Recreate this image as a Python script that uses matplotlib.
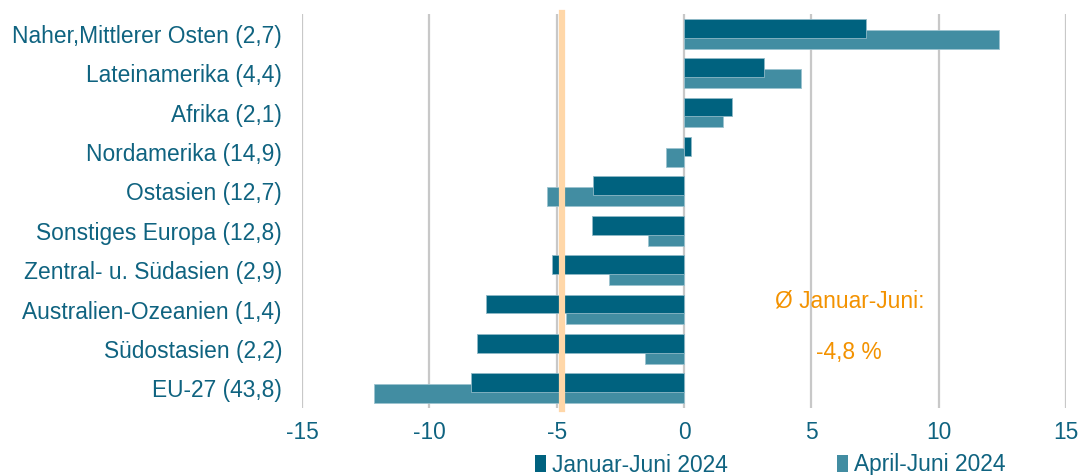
import matplotlib
matplotlib.use("Agg")
import matplotlib.pyplot as plt
from matplotlib.patches import Patch
import numpy as np

plt.rcParams['font.family'] = ['Liberation Sans', 'DejaVu Sans']

categories = ["Naher,Mittlerer Osten (2,7)", "Lateinamerika (4,4)", "Afrika (2,1)",
              "Nordamerika (14,9)", "Ostasien (12,7)", "Sonstiges Europa (12,8)",
              "Zentral- u. Südasien (2,9)", "Australien-Ozeanien (1,4)",
              "Südostasien (2,2)", "EU-27 (43,8)"]
jan_jun = [7.13, 3.16, 1.9, 0.29, -3.56, -3.62, -5.18, -7.77, -8.11, -8.36]
apr_jun = [12.37, 4.58, 1.52, -0.71, -5.38, -1.43, -2.96, -4.65, -1.53, -12.17]
avg_jan_jun = -4.8
series_names = ["Januar-Juni 2024", "April-Juni 2024"]
xticks = [-15, -10, -5, 0, 5, 10, 15]

dark = "#00627F"
light = "#428DA2"
text_col = "#0F6380"
orange = "#F39200"
orange_line = "#FFD7A8"
fs = 16.4

fig = plt.figure(figsize=(10.78, 4.75), dpi=100)
ax = fig.add_axes([302/1078, 1-408/475, (1066-302)/1078, (408-14)/475])

y = np.arange(len(categories))
h = 0.48
ax.barh(y + 0.14, apr_jun, height=h, color=light, edgecolor="#9CC3CF", linewidth=0.6, zorder=2)
ax.barh(y - 0.14, jan_jun, height=h, color=dark, edgecolor="#8FB9C7", linewidth=0.6, zorder=3)

ax.axvline(avg_jan_jun, color=orange_line, linewidth=4.5, zorder=4, ymin=-0.003, ymax=1.003, clip_on=False)

ax.set_xlim(-15, 15)
ax.set_ylim(len(categories) - 0.5, -0.5)
ax.set_xticks(xticks)
ax.set_xticklabels([str(t) for t in xticks])
ax.set_yticks(y)
ax.set_yticklabels(categories)
ax.xaxis.grid(True, color="#C8C8C8", linewidth=1.6, zorder=0)
ax.set_axisbelow(True)
for s in ax.spines.values():
    s.set_visible(False)
ax.tick_params(axis='both', length=0, labelsize=fs, labelcolor=text_col)
ax.tick_params(axis='y', pad=14.4)
ax.tick_params(axis='x', pad=9.5)

ax.text(6.52, 6.78, "Ø Januar-Juni:", color=orange, fontsize=fs, ha="center", va="center")
ax.text(6.48, 8.08, "-4,8 %", color=orange, fontsize=fs, ha="center", va="center")

handles = [Patch(facecolor=dark), Patch(facecolor=light)]
fig.legend(handles, series_names, loc="center", bbox_to_anchor=(770/1078, 1-465/475),
           ncol=2, frameon=False, fontsize=fs, labelcolor=text_col,
           handlelength=0.5, handleheight=0.75, handletextpad=0.25, columnspacing=4.8,
           borderpad=0, borderaxespad=0)

fig.savefig("out.png", dpi=100)
